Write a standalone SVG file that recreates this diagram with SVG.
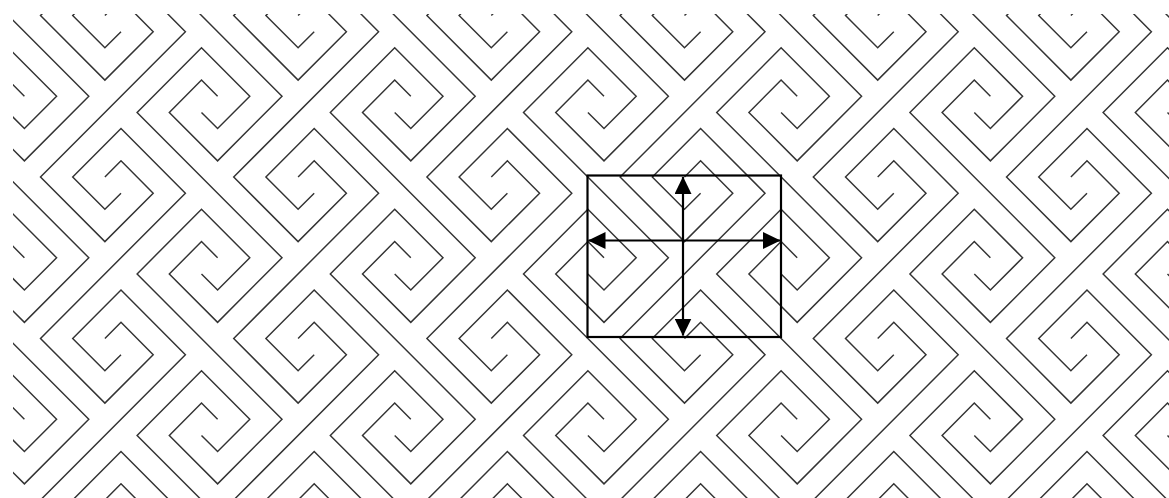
<svg xmlns="http://www.w3.org/2000/svg" xmlns:xlink="http://www.w3.org/1999/xlink" width="1169" height="498" viewBox="0 0 1169 498">
<defs>
<style>
.pat{fill:none;stroke:#333;stroke-width:1.45;stroke-linejoin:miter;stroke-linecap:butt}
.frame{fill:none;stroke:#000;stroke-width:2.2}
.arr{fill:none;stroke:#000;stroke-width:2.2}
</style>
<clipPath id="clip"><rect x="13" y="14" width="1156" height="484"/></clipPath>
<g id="tile">
<path class="pat" d="M0,64.6 L16.1,80.75 L48.3,48.45 L0,0 L-64.4,64.6 L80.5,209.95 L16.1,274.55 L-32.2,226.1 L0,193.8 L16.1,209.95"/>
<path class="pat" d="M112.7,-16.15 L96.6,0 L64.4,-32.3 L112.7,-80.75 L177.1,-16.15 L32.2,129.2 L96.6,193.8 L144.9,145.35 L112.7,113.05 L96.6,129.2"/>
</g>
<marker id="ah" markerUnits="userSpaceOnUse" markerWidth="18" markerHeight="17" refX="17" refY="8.5" orient="auto-start-reverse" viewBox="0 0 18 17"><path d="M0,0 L17.5,8.5 L0,17 Z" fill="#000"/></marker>
</defs>
<rect width="1169" height="498" fill="#fff"/>
<g id="pattern" clip-path="url(#clip)">
<use xlink:href="#tile" transform="translate(8.3,-113.7)"/>
<use xlink:href="#tile" transform="translate(201.5,-113.7)"/>
<use xlink:href="#tile" transform="translate(394.7,-113.7)"/>
<use xlink:href="#tile" transform="translate(587.9,-113.7)"/>
<use xlink:href="#tile" transform="translate(781.1,-113.7)"/>
<use xlink:href="#tile" transform="translate(974.3,-113.7)"/>
<use xlink:href="#tile" transform="translate(1167.5,-113.7)"/>
<use xlink:href="#tile" transform="translate(8.3,47.8)"/>
<use xlink:href="#tile" transform="translate(201.5,47.8)"/>
<use xlink:href="#tile" transform="translate(394.7,47.8)"/>
<use xlink:href="#tile" transform="translate(587.9,47.8)"/>
<use xlink:href="#tile" transform="translate(781.1,47.8)"/>
<use xlink:href="#tile" transform="translate(974.3,47.8)"/>
<use xlink:href="#tile" transform="translate(1167.5,47.8)"/>
<use xlink:href="#tile" transform="translate(8.3,209.3)"/>
<use xlink:href="#tile" transform="translate(201.5,209.3)"/>
<use xlink:href="#tile" transform="translate(394.7,209.3)"/>
<use xlink:href="#tile" transform="translate(587.9,209.3)"/>
<use xlink:href="#tile" transform="translate(781.1,209.3)"/>
<use xlink:href="#tile" transform="translate(974.3,209.3)"/>
<use xlink:href="#tile" transform="translate(1167.5,209.3)"/>
<use xlink:href="#tile" transform="translate(8.3,370.8)"/>
<use xlink:href="#tile" transform="translate(201.5,370.8)"/>
<use xlink:href="#tile" transform="translate(394.7,370.8)"/>
<use xlink:href="#tile" transform="translate(587.9,370.8)"/>
<use xlink:href="#tile" transform="translate(781.1,370.8)"/>
<use xlink:href="#tile" transform="translate(974.3,370.8)"/>
<use xlink:href="#tile" transform="translate(1167.5,370.8)"/>
<use xlink:href="#tile" transform="translate(8.3,532.3)"/>
<use xlink:href="#tile" transform="translate(201.5,532.3)"/>
<use xlink:href="#tile" transform="translate(394.7,532.3)"/>
<use xlink:href="#tile" transform="translate(587.9,532.3)"/>
<use xlink:href="#tile" transform="translate(781.1,532.3)"/>
<use xlink:href="#tile" transform="translate(974.3,532.3)"/>
<use xlink:href="#tile" transform="translate(1167.5,532.3)"/>
</g>
<g id="unit-cell">
<rect class="frame" x="587.5" y="175.5" width="193.5" height="161.5"/>
</g>
<g id="connectors">
<line class="arr" x1="588.5" y1="240.5" x2="780" y2="240.5" marker-start="url(#ah)" marker-end="url(#ah)"/>
<line class="arr" x1="683" y1="177" x2="683" y2="335.5" marker-start="url(#ah)" marker-end="url(#ah)"/>
</g>
</svg>
